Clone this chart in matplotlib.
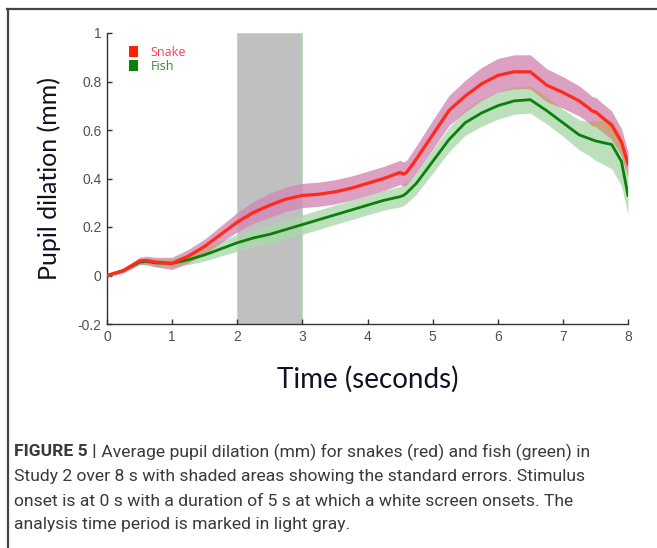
import numpy as np
import matplotlib
matplotlib.use("Agg")
import matplotlib.pyplot as plt
from matplotlib.patches import Patch, Rectangle
from matplotlib.lines import Line2D

# ---- data ----
time_s = [0, 0.25, 0.5, 0.6, 0.75, 1.0, 1.25, 1.5, 1.75, 2.0, 2.25, 2.5, 2.75, 3.0,
          3.25, 3.5, 3.75, 4.0, 4.25, 4.5, 4.55, 4.6, 4.75, 5.0, 5.25, 5.5, 5.75,
          6.0, 6.25, 6.5, 6.75, 7.0, 7.25, 7.4, 7.45, 7.5, 7.75, 7.9, 8.0]
snake_mean = [0.0, 0.02, 0.06, 0.062, 0.055, 0.05, 0.08, 0.12, 0.17, 0.22, 0.26, 0.29,
              0.315, 0.33, 0.335, 0.345, 0.36, 0.38, 0.40, 0.425, 0.418, 0.425, 0.48,
              0.58, 0.68, 0.74, 0.79, 0.825, 0.84, 0.84, 0.785, 0.755, 0.72, 0.69,
              0.678, 0.675, 0.62, 0.55, 0.46]
snake_se = [0.005, 0.01, 0.015, 0.018, 0.02, 0.025, 0.028, 0.03, 0.035, 0.04, 0.045,
            0.05, 0.05, 0.05, 0.05, 0.05, 0.05, 0.05, 0.05, 0.05, 0.05, 0.05, 0.055,
            0.06, 0.062, 0.065, 0.068, 0.07, 0.07, 0.07, 0.068, 0.065, 0.062, 0.06,
            0.06, 0.06, 0.058, 0.055, 0.05]
fish_mean = [0.0, 0.02, 0.055, 0.058, 0.052, 0.05, 0.065, 0.085, 0.11, 0.135, 0.155,
             0.17, 0.19, 0.21, 0.23, 0.25, 0.27, 0.29, 0.31, 0.325, 0.33, 0.34, 0.38,
             0.47, 0.56, 0.63, 0.67, 0.70, 0.72, 0.725, 0.68, 0.63, 0.58, 0.565,
             0.56, 0.555, 0.54, 0.47, 0.33]
fish_se = [0.004, 0.008, 0.01, 0.012, 0.013, 0.015, 0.02, 0.025, 0.03, 0.035, 0.038,
           0.04, 0.04, 0.04, 0.04, 0.04, 0.04, 0.04, 0.04, 0.042, 0.042, 0.042, 0.045,
           0.048, 0.05, 0.052, 0.055, 0.055, 0.055, 0.055, 0.055, 0.055, 0.062, 0.07,
           0.075, 0.08, 0.1, 0.1, 0.08]
analysis_window = [2, 3]
series_labels = ["Snake", "Fish"]
x_ticks = [0, 1, 2, 3, 4, 5, 6, 7, 8]
y_ticks = [-0.2, 0, 0.2, 0.4, 0.6, 0.8, 1]
y_tick_labels = ["-0.2", "0", "0.2", "0.4", "0.6", "0.8", "1"]
caption_bold = "FIGURE 5 |"
caption_lines = [
    " Average pupil dilation (mm) for snakes (red) and fish (green) in",
    "Study 2 over 8 s with shaded areas showing the standard errors. Stimulus",
    "onset is at 0 s with a duration of 5 s at which a white screen onsets. The",
    "analysis time period is marked in light gray.",
]

t = np.array(time_s)
sm, ss = np.array(snake_mean), np.array(snake_se)
fm, fs = np.array(fish_mean), np.array(fish_se)

W, H = 657, 548
fig = plt.figure(figsize=(W / 100, H / 100), dpi=100)
fig.patch.set_facecolor("white")

ax = fig.add_axes([107 / W, 1 - 324 / H, 521 / W, 291 / H])

# gray analysis window
ax.add_patch(Rectangle((analysis_window[0], -0.2), analysis_window[1] - analysis_window[0], 1.2,
                       facecolor="#c0c0c0", edgecolor="#bfe0bf", lw=0.8, zorder=1))

# bands
ax.fill_between(t, fm - fs, fm + fs, color="#abd8ab", alpha=0.8, lw=0, zorder=2)
ax.fill_between(t, sm - ss, sm + ss, color="#d488b5", alpha=0.8, lw=0, zorder=3)
lo = np.maximum(fm - fs, sm - ss)
hi = np.minimum(fm + fs, sm + ss)
ax.fill_between(t, lo, hi, where=lo < hi, interpolate=True, color="#cca37f",
                alpha=0.95, lw=0, zorder=4)

ax.plot(t, fm, color="#0a7f0a", lw=2.0, zorder=5)
ax.plot(t, sm, color="#ff2a1a", lw=2.3, zorder=6)

ax.set_xlim(0, 8)
ax.set_ylim(-0.2, 1)
ax.set_xticks(x_ticks)
ax.set_xticklabels([str(v) for v in x_ticks])
ax.set_yticks(y_ticks)
ax.set_yticklabels(y_tick_labels)
for s in ["top", "right"]:
    ax.spines[s].set_visible(False)
for s in ["left", "bottom"]:
    ax.spines[s].set_color("#333333")
    ax.spines[s].set_linewidth(1.0)
ax.tick_params(direction="in", length=3.5, width=1, colors="#333333",
               labelcolor="#505050", labelsize=10, pad=4)
for lab in ax.get_xticklabels() + ax.get_yticklabels():
    lab.set_family("Liberation Sans")

ax.set_xlabel("Time (seconds)", fontsize=20, family="Lato", color="#111122", labelpad=16)
ax.set_ylabel("Pupil dilation (mm)", fontsize=18, family="Lato", color="#111122", labelpad=12)

handles = [Patch(facecolor="#ff2200", edgecolor="none"),
           Patch(facecolor="#0a7f0a", edgecolor="none")]
leg = ax.legend(handles, series_labels, loc="upper left", bbox_to_anchor=(0.02, 0.995),
                frameon=False, handlelength=0.75, handleheight=0.9, handletextpad=1.0,
                labelspacing=0.1, prop={"family": "Open Sans", "size": 9},
                labelcolor=["#ff3a55", "#2e8b2e"])

# frame lines
fig.add_artist(Line2D([7 / W, 1], [1 - 8.5 / H, 1 - 8.5 / H], color="#444444", lw=1.6))
fig.add_artist(Line2D([7.5 / W, 7.5 / W], [0, 1 - 8.5 / H], color="#444444", lw=1.6))

# caption
cap_font = dict(family="Roboto", size=12.6, color="#3a3a3a")
ys = [452, 476, 501, 525]
renderer = fig.canvas.get_renderer()
tb = fig.text(14 / W, 1 - ys[0] / H, caption_bold, va="center", ha="left",
              fontweight="bold", **cap_font)
bb = tb.get_window_extent(renderer=renderer)
fig.text(bb.x1 / W, 1 - ys[0] / H, caption_lines[0], va="center", ha="left", **cap_font)
for y, line in zip(ys[1:], caption_lines[1:]):
    fig.text(14 / W, 1 - y / H, line, va="center", ha="left", **cap_font)

fig.savefig("out.png", dpi=100, facecolor="white")
